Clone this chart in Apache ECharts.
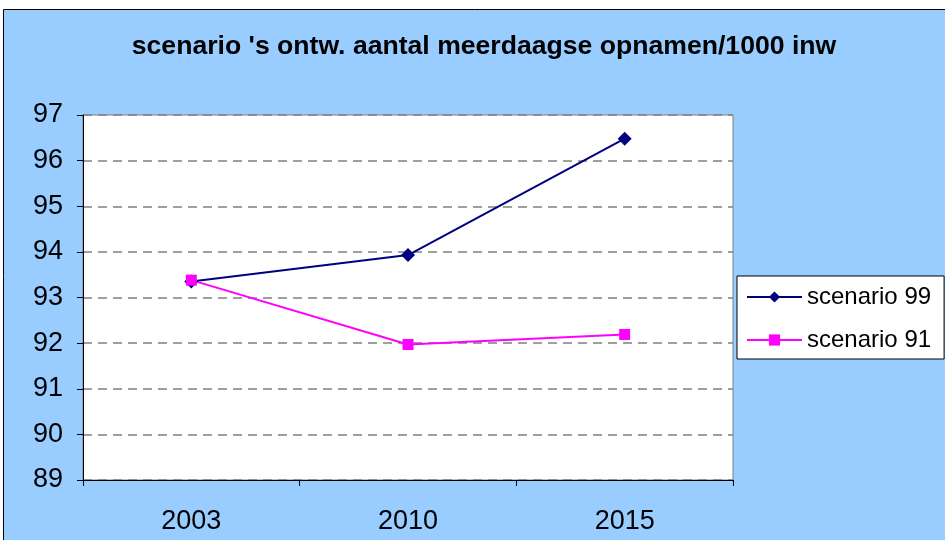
<!DOCTYPE html>
<html>
<head>
<meta charset="utf-8">
<script src="https://cdn.jsdelivr.net/npm/echarts@6/dist/echarts.min.js"></script>
<style>
  html, body { margin: 0; padding: 0; background: #fff; }
  #chart { width: 945px; height: 540px; }
</style>
</head>
<body>
<div id="chart"></div>
<script>
var years = ['2003', '2010', '2015']
var scenario99 = [93.35, 93.93, 96.48]
var scenario91 = [93.38, 91.97, 92.19]

var chart = echarts.init(document.getElementById('chart'))
chart.setOption({
  backgroundColor: '#fff',
  animation: false,
  graphic: [
    {
      type: 'rect',
      z: -10,
      silent: true,
      shape: { x: 3.5, y: 9.5, width: 960, height: 560 },
      style: { fill: '#99CCFF', stroke: '#000', lineWidth: 1 }
    }
  ],
  title: {
    text: "scenario 's ontw. aantal meerdaagse opnamen/1000 inw",
    left: 479,
    top: 28,
    textAlign: 'center',
    textStyle: {
      fontFamily: 'Liberation Sans',
      fontWeight: 'bold',
      fontSize: 26.6,
      color: '#000'
    }
  },
  legend: {
    orient: 'vertical',
    left: 737,
    top: 276,
    padding: [9, 13, 7, 9],
    itemGap: 19,
    itemWidth: 55,
    itemHeight: 14,
    backgroundColor: '#fff',
    borderColor: '#000',
    borderWidth: 1,
    textStyle: { fontFamily: 'Liberation Sans', fontSize: 24, color: '#000' },
    data: ['scenario 99', 'scenario 91']
  },
  grid: {
    left: 83,
    top: 115,
    width: 650,
    height: 365,
    show: true,
    backgroundColor: '#fff',
    borderColor: '#808080',
    borderWidth: 1
  },
  xAxis: {
    type: 'category',
    data: years,
    boundaryGap: true,
    axisLine: { lineStyle: { color: '#000', width: 1 } },
    axisTick: { show: true, length: 6, lineStyle: { color: '#000' } },
    axisLabel: { fontFamily: 'Liberation Sans', fontSize: 27, color: '#000', margin: 28 }
  },
  yAxis: {
    type: 'value',
    min: 89,
    max: 97,
    interval: 1,
    axisLine: { show: true, lineStyle: { color: '#000', width: 1 } },
    axisTick: { show: true, length: 6, lineStyle: { color: '#000' } },
    axisLabel: { fontFamily: 'Liberation Sans', fontSize: 27, color: '#000', margin: 20 },
    splitLine: { show: true, lineStyle: { color: '#808080', type: [9, 6], width: 1.5 } }
  },
  series: [
    {
      name: 'scenario 99',
      type: 'line',
      data: scenario99,
      symbol: 'diamond',
      symbolSize: 14,
      itemStyle: { color: '#000080' },
      lineStyle: { color: '#000080', width: 2 }
    },
    {
      name: 'scenario 91',
      type: 'line',
      data: scenario91,
      symbol: 'rect',
      symbolSize: 11,
      z: 3,
      itemStyle: { color: '#FF00FF' },
      lineStyle: { color: '#FF00FF', width: 2 }
    }
  ]
})
</script>
</body>
</html>
